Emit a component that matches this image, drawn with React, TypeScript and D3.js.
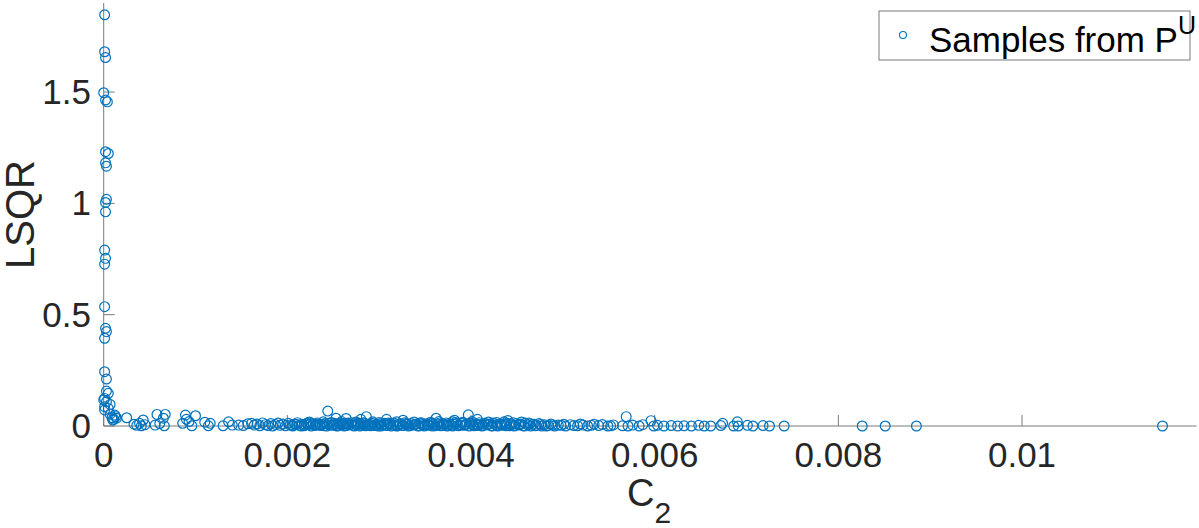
import React from "react";
import * as d3 from "d3";

// Samples: [C2, LSQR]
const columnSamples: [number, number][] = [
  [0.00001, 1.847], [0.00001, 1.681], [0.00002, 1.655], [0.0, 1.497], [0.00002, 1.464], [0.00004, 1.456],
  [0.00002, 1.232], [0.00005, 1.224], [0.00002, 1.182], [0.00003, 1.167], [0.00003, 1.018], [0.00002, 1.004],
  [0.00002, 0.962], [0.00001, 0.79], [0.00002, 0.753], [0.00001, 0.727], [0.00001, 0.536], [0.00002, 0.439],
  [0.00003, 0.424], [0.00001, 0.394], [0.00001, 0.244], [0.00003, 0.211], [0.00003, 0.157], [0.00005, 0.147],
  [0.00001, 0.124], [0.0, 0.117], [0.00003, 0.109], [0.00007, 0.097], [0.00001, 0.087], [0.00005, 0.079],
  [0.00001, 0.072], [0.00007, 0.053], [0.00012, 0.049], [0.00009, 0.037], [0.0001, 0.027], [0.00014, 0.035],
  [0.00025, 0.037], [0.00011, 0.031], [0.00013, 0.042],
];

const lowSamples: [number, number][] = [
  [0.00033, 0.008], [0.00036, 0.003], [0.00039, 0.012], [0.00043, 0.027], [0.00045, 0.006], [0.00041, 0.001],
  [0.00058, 0.052], [0.00067, 0.052], [0.00065, 0.035], [0.00056, 0.004], [0.00066, 0.001], [0.00061, 0.011],
  [0.00089, 0.049], [0.0009, 0.03], [0.001, 0.046], [0.00086, 0.012], [0.00096, 0.001], [0.00093, 0.02],
  [0.0011, 0.017], [0.00116, 0.012], [0.00114, 0.001], [0.0013, 0.001], [0.00136, 0.019], [0.0014, 0.004],
  [0.00147, 0.004], [0.00152, 0.002], [0.00157, 0.01],
];

const bandSamples: [number, number][] = [
  [0.00161, 0.012], [0.00164, 0.004], [0.00167, 0.009], [0.0017, 0.001], [0.00173, 0.014], [0.00176, 0.006],
  [0.00179, 0.002], [0.00182, 0.011], [0.00184, 0.0], [0.00187, 0.007], [0.0019, 0.013], [0.00192, 0.003],
  [0.00195, 0.009], [0.00198, 0.001], [0.00201, 0.012], [0.00203, 0.005], [0.00206, 0.0], [0.00208, 0.009],
  [0.00211, 0.015], [0.00213, 0.003], [0.00216, 0.008], [0.00218, 0.001], [0.00221, 0.012], [0.00223, 0.006],
  [0.00226, 0.0], [0.00228, 0.01], [0.00231, 0.004], [0.00233, 0.014], [0.00236, 0.002], [0.00238, 0.008],
  [0.00241, 0.011], [0.00243, 0.0], [0.00246, 0.005], [0.00248, 0.016], [0.0025, 0.003], [0.00253, 0.009],
  [0.00255, 0.001], [0.00258, 0.013], [0.0026, 0.006], [0.00262, 0.0], [0.00265, 0.01], [0.00267, 0.004],
  [0.0027, 0.015], [0.00272, 0.002], [0.00274, 0.008], [0.00277, 0.012], [0.00279, 0.0], [0.00282, 0.006],
  [0.00284, 0.011], [0.00287, 0.003], [0.00289, 0.009], [0.00291, 0.001], [0.00294, 0.014], [0.00296, 0.005],
  [0.00299, 0.0], [0.00301, 0.01], [0.00303, 0.004], [0.00306, 0.012], [0.00308, 0.002], [0.00311, 0.008],
  [0.00313, 0.0], [0.00316, 0.013], [0.00318, 0.006], [0.0032, 0.001], [0.00323, 0.01], [0.00325, 0.003],
  [0.00328, 0.015], [0.0033, 0.007], [0.00332, 0.0], [0.00335, 0.011], [0.00337, 0.004], [0.0034, 0.009],
  [0.00342, 0.001], [0.00344, 0.013], [0.00347, 0.005], [0.00349, 0.0], [0.00352, 0.01], [0.00354, 0.003],
  [0.00357, 0.012], [0.00359, 0.007], [0.00361, 0.001], [0.00364, 0.009], [0.00366, 0.014], [0.00369, 0.002],
  [0.00371, 0.006], [0.00374, 0.0], [0.00376, 0.011], [0.00378, 0.004], [0.00381, 0.008], [0.00383, 0.016],
  [0.00386, 0.001], [0.00388, 0.006], [0.0039, 0.012], [0.00393, 0.003], [0.00395, 0.009], [0.00398, 0.0],
  [0.004, 0.013], [0.00402, 0.005], [0.00405, 0.01], [0.00407, 0.002], [0.0041, 0.007], [0.00412, 0.0],
  [0.00415, 0.012], [0.00417, 0.004], [0.0042, 0.009], [0.00422, 0.001], [0.00424, 0.014], [0.00427, 0.006],
  [0.00429, 0.0], [0.00432, 0.01], [0.00434, 0.003], [0.00437, 0.008], [0.00439, 0.012], [0.00442, 0.001],
  [0.00444, 0.006], [0.00447, 0.0], [0.00449, 0.011], [0.00452, 0.004], [0.00454, 0.009], [0.00457, 0.001],
  [0.00459, 0.013], [0.00462, 0.005], [0.00465, 0.0], [0.00468, 0.008], [0.00471, 0.003], [0.00474, 0.011],
  [0.00477, 0.0], [0.0048, 0.006], [0.00484, 0.002], [0.00487, 0.009], [0.00491, 0.0], [0.00495, 0.004],
  [0.00224, 0.018], [0.00232, 0.009], [0.00239, 0.019], [0.00251, 0.012], [0.00259, 0.02], [0.00266, 0.013],
  [0.00275, 0.018], [0.00283, 0.015], [0.00293, 0.019], [0.003, 0.016], [0.0031, 0.014], [0.00319, 0.019],
  [0.00329, 0.011], [0.00338, 0.018], [0.00346, 0.015], [0.00356, 0.017], [0.00365, 0.02], [0.00373, 0.014],
  [0.0038, 0.019], [0.00391, 0.017], [0.00401, 0.02], [0.00409, 0.015], [0.00419, 0.018], [0.00428, 0.016],
  [0.00436, 0.019], [0.00446, 0.015], [0.00455, 0.018], [0.00463, 0.014],
  [0.00205, 0.003], [0.0021, 0.007], [0.00215, 0.0], [0.0022, 0.005], [0.00225, 0.011], [0.0023, 0.002],
  [0.00235, 0.007], [0.0024, 0.001], [0.00245, 0.012], [0.00249, 0.004], [0.00254, 0.0], [0.00257, 0.007],
  [0.00261, 0.011], [0.00264, 0.002], [0.00269, 0.007], [0.00273, 0.0], [0.00276, 0.004], [0.0028, 0.01],
  [0.00285, 0.001], [0.00288, 0.006], [0.00292, 0.011], [0.00295, 0.002], [0.00298, 0.007], [0.00302, 0.0],
  [0.00305, 0.008], [0.00309, 0.003], [0.00312, 0.012], [0.00315, 0.004], [0.00319, 0.0], [0.00322, 0.007],
  [0.00326, 0.002], [0.00331, 0.009], [0.00334, 0.002], [0.00339, 0.006], [0.00343, 0.0], [0.00346, 0.01],
  [0.0035, 0.004], [0.00353, 0.007], [0.00358, 0.0], [0.00363, 0.005], [0.00367, 0.001], [0.0037, 0.009],
  [0.00375, 0.003], [0.0038, 0.0], [0.00384, 0.01], [0.00389, 0.003], [0.00394, 0.006], [0.00399, 0.011],
  [0.00403, 0.001], [0.00408, 0.006], [0.00413, 0.003], [0.00418, 0.008], [0.00423, 0.0], [0.00428, 0.004],
  [0.00433, 0.007], [0.00438, 0.001], [0.00443, 0.01], [0.00448, 0.003], [0.00453, 0.006], [0.00458, 0.0],
  [0.00464, 0.01], [0.0047, 0.001], [0.00476, 0.007], [0.00482, 0.0], [0.00489, 0.005],
];

const outlierSamples: [number, number][] = [
  [0.00244, 0.067], [0.00253, 0.035], [0.00264, 0.034], [0.0028, 0.03], [0.00286, 0.042], [0.00308, 0.03],
  [0.00326, 0.026], [0.00362, 0.035], [0.00382, 0.026], [0.00397, 0.05], [0.00407, 0.03], [0.0044, 0.025],
  [0.00569, 0.042], [0.00596, 0.024],
];

const tailSamples: [number, number][] = [
  [0.00498, 0.003], [0.00503, 0.0], [0.00508, 0.006], [0.00516, 0.001], [0.00522, 0.004], [0.00527, 0.0],
  [0.00534, 0.008], [0.00539, 0.002], [0.00549, 0.0], [0.00555, 0.005], [0.00565, 0.001], [0.00571, 0.0],
  [0.00576, 0.004], [0.00583, 0.0], [0.00587, 0.006], [0.00599, 0.0], [0.00603, 0.003], [0.0061, 0.0],
  [0.00618, 0.002], [0.00625, 0.0], [0.00632, 0.001], [0.0064, 0.0], [0.00648, 0.003], [0.00654, 0.0],
  [0.00661, 0.0], [0.00672, 0.002], [0.00674, 0.012], [0.00686, 0.0], [0.0069, 0.019], [0.00691, 0.0],
  [0.00701, 0.003], [0.00707, 0.0], [0.00718, 0.002], [0.00725, 0.0], [0.00741, 0.0], [0.00826, 0.0],
  [0.00851, 0.0], [0.00885, 0.0], [0.01153, 0.0],
  [0.00501, 0.008], [0.00512, 0.002], [0.00519, 0.009], [0.00531, 0.003], [0.00543, 0.007], [0.00552, 0.001],
];

const xTicks = [0, 0.002, 0.004, 0.006, 0.008, 0.01];
const xTickLabels = ["0", "0.002", "0.004", "0.006", "0.008", "0.01"];
const yTicks = [0, 0.5, 1, 1.5];
const yTickLabels = ["0", "0.5", "1", "1.5"];
const xDomain = [0, 0.0119];
const yDomain = [0, 1.9];
const legendLabel = "Samples from P";
const legendSup = "U";

const W = 1199;
const H = 528;
const FONT = "'Liberation Sans', Arial, Helvetica, sans-serif";
const BLUE = "#0072BD";
const TXT = "#262626";
const AX = "#7a7a7a";

export default function App() {
  const left = 103.7;
  const right = 1196.5;
  const top = 3;
  const bottom = 426;
  const x = d3.scaleLinear().domain(xDomain).range([left, right]);
  const y = d3.scaleLinear().domain(yDomain).range([bottom, top]);
  const all = [...columnSamples, ...lowSamples, ...bandSamples, ...outlierSamples, ...tailSamples];
  const tickLen = 11;

  return (
    <svg width={W} height={H} style={{ position: "absolute", left: 0, top: 0, background: "#fff" }} fontFamily={FONT}>
      <rect x={0} y={0} width={W} height={H} fill="#fff" />
      <line x1={left} x2={right} y1={bottom} y2={bottom} stroke={AX} strokeWidth={1} />
      <line x1={left} x2={left} y1={top} y2={bottom} stroke={AX} strokeWidth={1} />
      {xTicks.map((t, i) => (
        <g key={"xt" + i}>
          <line x1={x(t)} x2={x(t)} y1={bottom} y2={bottom - tickLen} stroke={AX} strokeWidth={1} />
          <text x={x(t)} y={467} textAnchor="middle" fontSize={35} fill={TXT}>
            {xTickLabels[i]}
          </text>
        </g>
      ))}
      {yTicks.map((t, i) => (
        <g key={"yt" + i}>
          <line x1={left} x2={left + tickLen} y1={y(t)} y2={y(t)} stroke={AX} strokeWidth={1} />
          <text x={91} y={y(t) + 12} textAnchor="end" fontSize={35} fill={TXT}>
            {yTickLabels[i]}
          </text>
        </g>
      ))}
      {all.map((d, i) => (
        <circle key={i} cx={x(d[0])} cy={y(d[1])} r={4.9} fill="none" stroke={BLUE} strokeWidth={1.2} />
      ))}
      <text x={627} y={506} fontSize={38} fill={TXT}>
        C
        <tspan fontSize={30} dy={17}>2</tspan>
      </text>
      <text transform={`translate(34, ${(top + bottom) / 2}) rotate(-90)`} textAnchor="middle" fontSize={40} fill={TXT}>
        LSQR
      </text>
      <rect x={879} y={11} width={311} height={49} fill="#fff" stroke={AX} strokeWidth={1} />
      <circle cx={903} cy={35} r={3.5} fill="none" stroke={BLUE} strokeWidth={1.1} />
      <text x={929} y={51.5} fontSize={35} fill="#000">
        {legendLabel}
        <tspan fontSize={25} dy={-18}>{legendSup}</tspan>
      </text>
    </svg>
  );
}
